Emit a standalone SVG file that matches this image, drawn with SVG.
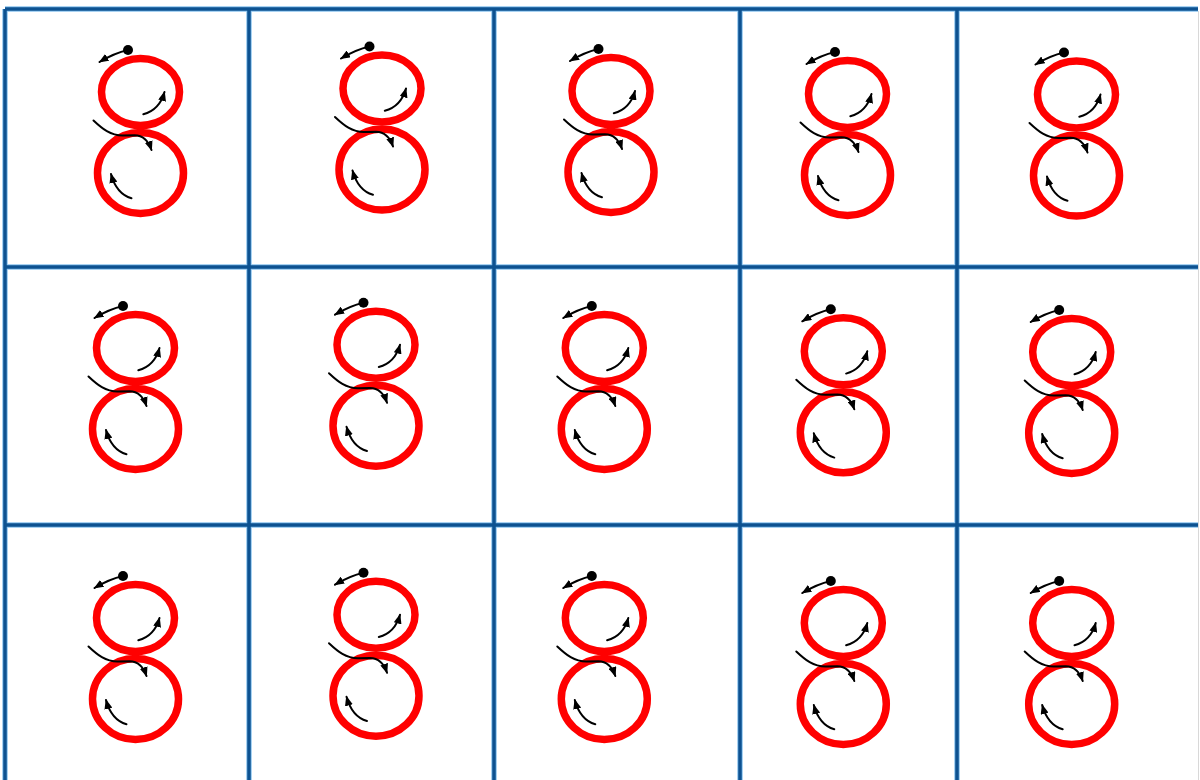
<svg xmlns="http://www.w3.org/2000/svg" xmlns:xlink="http://www.w3.org/1999/xlink" width="1200" height="780" viewBox="0 0 1200 780">
<style>
.ring{fill:none;stroke:#ff0000;stroke-width:7.5}
.arr{fill:none;stroke:#000;stroke-width:2;stroke-linecap:round;marker-end:url(#ah)}
.grid{stroke:#0d5291;stroke-width:3.5;fill:none}
.gridhi{stroke:#8cc4ee;stroke-width:5.5;fill:none}
</style>
<defs>
<marker id="ah" viewBox="0 0 10 8" refX="9" refY="4" markerWidth="5" markerHeight="4" orient="auto" markerUnits="strokeWidth"><path d="M0,0 L10,4 L0,8 z" fill="#000"/></marker>
<g id="eight">
<ellipse class="ring" cx="0" cy="-37" rx="39" ry="33.5"/>
<ellipse class="ring" cx="0" cy="44" rx="43" ry="40.5"/>
<circle cx="-12.5" cy="-79" r="5" fill="#000"/>
<path class="arr" d="M-12.5,-79 Q-26,-76 -41,-67"/>
<path class="arr" d="M2.8,-14.7 Q19,-19 24,-37"/>
<path class="arr" d="M-47,-8.5 C-38,0 -30,6.5 -18,6.5 L-6,6.3 C2,6.5 8,12 11,21"/>
<path class="arr" d="M-9,69.3 Q-24,65 -29.5,45"/>
</g>
</defs>
<rect width="1200" height="780" fill="#fff"/>
<g id="grid">
<path class="gridhi" d="M5,9 H1198 M5,267 H1198 M5,525 H1198 M5,9 V780 M249,9 V780 M494,9 V780 M740,9 V780 M957,9 V780"/>
<path class="grid" d="M5,9 H1198 M5,267 H1198 M5,525 H1198 M5,9 V780 M249,9 V780 M494,9 V780 M740,9 V780 M957,9 V780"/>
<path d="M1198.5,11 V780" stroke="#d8d8d8" stroke-width="1" fill="none"/>
</g>
<g id="cell-r1c1"><use xlink:href="#eight" href="#eight" transform="translate(140.5,129)"/></g>
<g id="cell-r1c2"><use xlink:href="#eight" href="#eight" transform="translate(382,125.5)"/></g>
<g id="cell-r1c3"><use xlink:href="#eight" href="#eight" transform="translate(611,128)"/></g>
<g id="cell-r1c4"><use xlink:href="#eight" href="#eight" transform="translate(847.5,131)"/></g>
<g id="cell-r1c5"><use xlink:href="#eight" href="#eight" transform="translate(1076.5,131.5)"/></g>
<g id="cell-r2c1"><use xlink:href="#eight" href="#eight" transform="translate(135.5,385)"/></g>
<g id="cell-r2c2"><use xlink:href="#eight" href="#eight" transform="translate(376,381.7)"/></g>
<g id="cell-r2c3"><use xlink:href="#eight" href="#eight" transform="translate(604.3,385)"/></g>
<g id="cell-r2c4"><use xlink:href="#eight" href="#eight" transform="translate(843.3,388.3)"/></g>
<g id="cell-r2c5"><use xlink:href="#eight" href="#eight" transform="translate(1071.7,389)"/></g>
<g id="cell-r3c1"><use xlink:href="#eight" href="#eight" transform="translate(135.5,655)"/></g>
<g id="cell-r3c2"><use xlink:href="#eight" href="#eight" transform="translate(376,651.7)"/></g>
<g id="cell-r3c3"><use xlink:href="#eight" href="#eight" transform="translate(604.3,655)"/></g>
<g id="cell-r3c4"><use xlink:href="#eight" href="#eight" transform="translate(843.3,660)"/></g>
<g id="cell-r3c5"><use xlink:href="#eight" href="#eight" transform="translate(1071.7,660)"/></g>
</svg>
